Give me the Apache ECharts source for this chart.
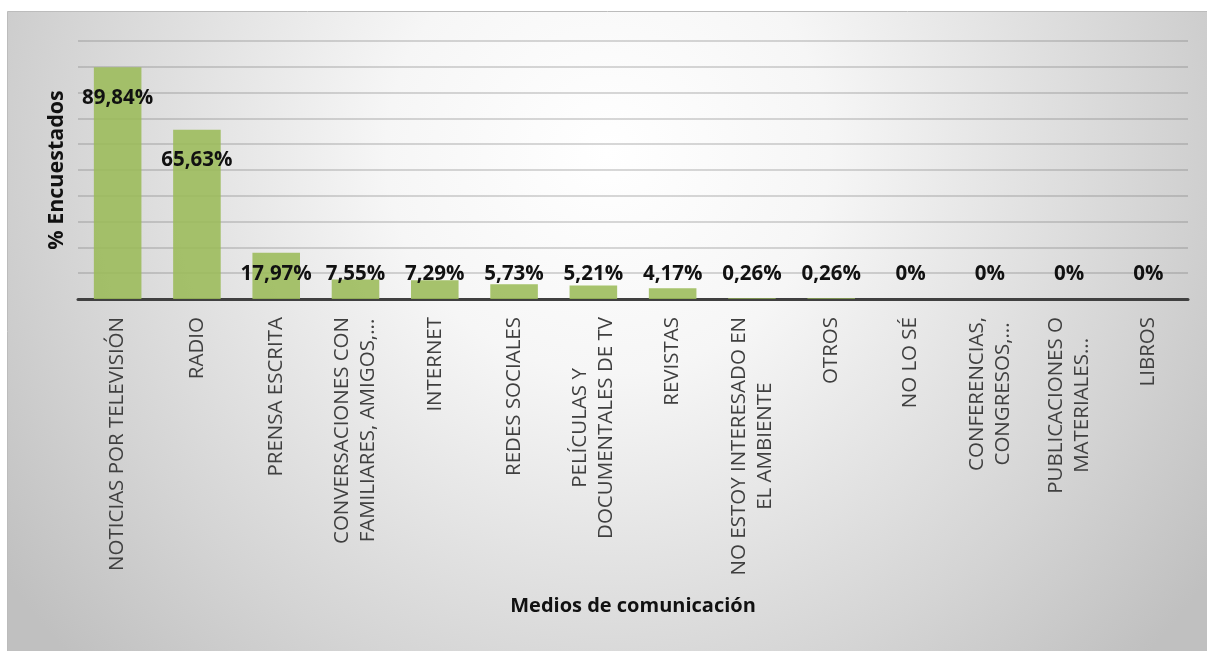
<!DOCTYPE html>
<html>
<head>
<meta charset="utf-8">
<script src="https://cdn.jsdelivr.net/npm/echarts@6/dist/echarts.min.js"></script>
<style>
  html, body { margin: 0; padding: 0; background: #fff; }
  #chart { width: 1207px; height: 651px; }
</style>
</head>
<body>
<div id="chart"></div>
<script>
const categories = [
  'NOTICIAS POR TELEVISIÓN',
  'RADIO',
  'PRENSA ESCRITA',
  'CONVERSACIONES CON\nFAMILIARES, AMIGOS,...',
  'INTERNET',
  'REDES SOCIALES',
  'PELÍCULAS Y\nDOCUMENTALES DE TV',
  'REVISTAS',
  'NO ESTOY INTERESADO EN\nEL AMBIENTE',
  'OTROS',
  'NO LO SÉ',
  'CONFERENCIAS,\nCONGRESOS,...',
  'PUBLICACIONES O\nMATERIALES...',
  'LIBROS'
];
const percentages = [89.84, 65.63, 17.97, 7.55, 7.29, 5.73, 5.21, 4.17, 0.26, 0.26, 0, 0, 0, 0];

const fontFamily = '"Open Sans", "Noto Sans", sans-serif';

function fmtPct(v) {
  return v === 0 ? '0%' : v.toFixed(2).replace('.', ',') + '%';
}

const labelBase = {
  show: true,
  color: '#111',
  fontWeight: 'bold',
  fontSize: 20.5,
  fontFamily: fontFamily,
  formatter: p => fmtPct(p.value)
};

// tall bars carry their label inside the top, short ones just above the axis
const barData = percentages.map(v => ({
  value: v,
  label: v > 50
    ? Object.assign({}, labelBase, { position: 'insideTop', distance: 20 })
    : Object.assign({}, labelBase, { position: 'insideBottom', distance: 14 })
}));

const chart = echarts.init(document.getElementById('chart'));
chart.setOption({
  animation: false,
  graphic: [
    {
      type: 'rect',
      z: -100,
      silent: true,
      shape: { x: 7.5, y: 11.5, width: 1200, height: 640 },
      style: {
        stroke: '#bcbcbc',
        lineWidth: 1,
        fill: {
          type: 'radial',
          x: 0.5, y: 0.22, r: 1.15,
          colorStops: [
            { offset: 0, color: '#ffffff' },
            { offset: 0.3, color: '#f6f6f6' },
            { offset: 0.75, color: '#d4d4d4' },
            { offset: 1, color: '#c0c0c0' }
          ]
        }
      }
    }
  ],
  grid: { left: 78, right: 19, top: 41, bottom: 352 },
  xAxis: {
    type: 'category',
    data: categories,
    name: 'Medios de comunicación',
    nameLocation: 'middle',
    nameGap: 297,
    nameTextStyle: { fontFamily: fontFamily, fontWeight: 'bold', fontSize: 20, color: '#111' },
    axisLine: { lineStyle: { color: '#404040', width: 3 } },
    axisTick: { show: false },
    axisLabel: {
      interval: 0,
      rotate: 90,
      margin: 18,
      color: '#404040',
      fontFamily: fontFamily,
      fontSize: 20.5,
      lineHeight: 26,
      formatter: v => v.split('\n').map(l => '{c|' + l + '}').join('\n'),
      rich: {
        c: { align: 'center', fontFamily: fontFamily, fontSize: 20.5, lineHeight: 26, color: '#404040' }
      }
    }
  },
  yAxis: {
    type: 'value',
    min: 0,
    max: 100,
    interval: 10,
    name: '% Encuestados',
    nameLocation: 'middle',
    nameGap: 10,
    nameTextStyle: { fontFamily: fontFamily, fontWeight: 'bold', fontSize: 21.5, color: '#111' },
    axisLine: { show: false },
    axisTick: { show: false },
    axisLabel: { show: false },
    splitLine: { lineStyle: { color: 'rgba(110,110,110,0.36)', width: 1.5 } }
  },
  series: [
    {
      type: 'bar',
      data: barData,
      barCategoryGap: '40%',
      itemStyle: {
        color: 'rgba(155,187,89,0.88)'
      }
    }
  ]
});
</script>
</body>
</html>
